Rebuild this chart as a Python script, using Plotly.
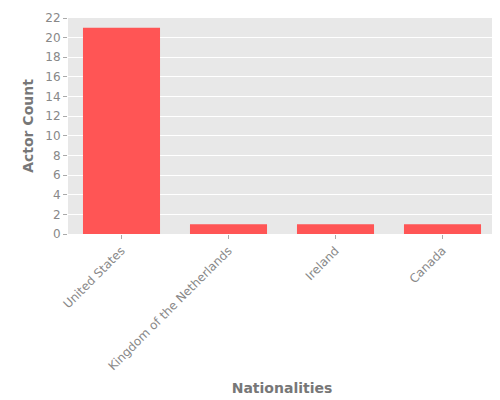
import plotly.graph_objects as go

# Data
nationalities = ["United States", "Kingdom of the Netherlands", "Ireland", "Canada"]
actor_counts = [21, 1, 1, 1]

fig = go.Figure(data=[go.Bar(
    x=nationalities,
    y=actor_counts,
    marker=dict(color="#ff5555", line=dict(width=0)),
    width=0.72,
)])

fig.update_layout(
    width=500, height=400,
    margin=dict(l=60, r=12, t=10, b=174),
    paper_bgcolor="white",
    plot_bgcolor="#e8e8e8",
    font=dict(family="DejaVu Sans", size=12, color="#888888"),
    showlegend=False,
)
fig.update_xaxes(
    title=dict(text="<b>Nationalities</b>", font=dict(size=14, color="#777777"), standoff=10),
    tickangle=-45, showgrid=False, ticks="outside", ticklen=4, tickcolor="#aaaaaa",
    automargin=False,
)
fig.update_yaxes(
    title=dict(text="<b>Actor Count</b>", font=dict(size=14, color="#777777"), standoff=8),
    range=[0, 22], dtick=2, gridcolor="white", gridwidth=1, zeroline=False,
    ticks="outside", ticklen=4, tickcolor="#aaaaaa", automargin=False,
)

fig.write_html("out.html")
